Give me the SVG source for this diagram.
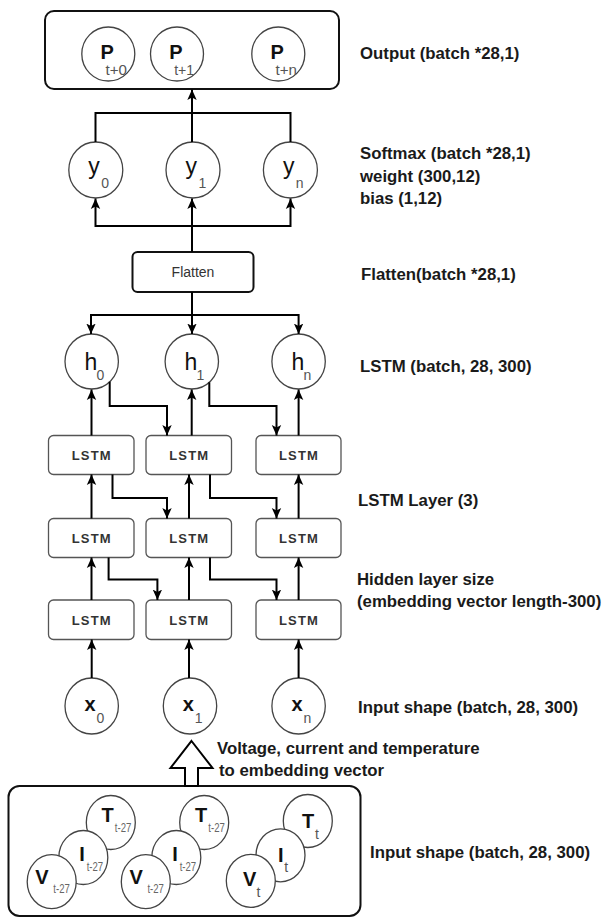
<svg xmlns="http://www.w3.org/2000/svg" width="602" height="918" viewBox="0 0 602 918">
<defs>
<style>
.lbl{font-family:"Liberation Sans",Arial,sans-serif;font-weight:bold;font-size:16.8px;fill:#1a1a1a}
.circ{fill:#fff;stroke:#444;stroke-width:1.3}
.box{fill:#fff;stroke:#555;stroke-width:1.3}
.obox{fill:#fff;stroke:#111;stroke-width:2}
.con{fill:none;stroke:#000;stroke-width:2}
.big{font-family:"Liberation Sans",Arial,sans-serif;font-weight:bold;font-size:20px;fill:#111}
.bigr{font-family:"Liberation Sans",Arial,sans-serif;font-size:23px;fill:#111}
.sub{font-family:"Liberation Sans",Arial,sans-serif;font-size:14px;fill:#555}
.subs{font-family:"Liberation Sans",Arial,sans-serif;font-size:12px;fill:#666}
.lstm{font-family:"Liberation Sans",Arial,sans-serif;font-weight:bold;font-size:13px;letter-spacing:1.2px;fill:#333;text-anchor:middle}
</style>
<marker id="ah" markerUnits="userSpaceOnUse" markerWidth="11" markerHeight="11" refX="10.5" refY="5.5" orient="auto">
<path d="M0,0.8 L10.5,5.5 L0,10.2 L2.6,5.5 z" fill="#000"/>
</marker>
</defs>

<!-- Output -->
<g id="output">
<rect class="obox" x="45" y="11" width="294" height="78" rx="9"/>
<ellipse class="circ" cx="108.3" cy="54" rx="26.5" ry="27"/>
<text class="big" x="100.5" y="58.5" font-size="22">P</text><text class="sub" x="105.5" y="74.5" font-size="15" textLength="21.5" lengthAdjust="spacingAndGlyphs">t+0</text>
<ellipse class="circ" cx="177" cy="54" rx="26.5" ry="27"/>
<text class="big" x="169.2" y="58.5" font-size="22">P</text><text class="sub" x="174.2" y="74.5" font-size="15" textLength="20" lengthAdjust="spacingAndGlyphs">t+1</text>
<ellipse class="circ" cx="278.3" cy="54" rx="26.5" ry="27"/>
<text class="big" x="270.5" y="58.5" font-size="22">P</text><text class="sub" x="275.5" y="74.5" font-size="15" textLength="21.5" lengthAdjust="spacingAndGlyphs">t+n</text>
</g>

<!-- Softmax nodes -->
<g id="y0"><ellipse class="circ" cx="95.8" cy="170" rx="27" ry="28"/><text class="bigr" x="88.3" y="174">y</text><text class="sub" x="101.2" y="188">0</text></g>
<g id="y1"><ellipse class="circ" cx="193" cy="170" rx="27" ry="28"/><text class="bigr" x="185.5" y="174">y</text><text class="sub" x="198.4" y="188">1</text></g>
<g id="yn"><ellipse class="circ" cx="290.4" cy="170" rx="27" ry="28"/><text class="bigr" x="282.9" y="174">y</text><text class="sub" x="295.8" y="188">n</text></g>

<g id="flatten">
<rect class="obox" x="132.5" y="252" width="121" height="40" rx="5"/>
<text x="193" y="277" text-anchor="middle" font-family="Liberation Sans, Arial, sans-serif" font-size="14" fill="#333">Flatten</text>
</g>

<!-- h nodes -->
<g id="h0"><ellipse class="circ" cx="91.7" cy="361.5" rx="26.7" ry="27.5"/><text class="bigr" x="84.5" y="370">h</text><text class="sub" x="96.5" y="380">0</text></g>
<g id="h1"><ellipse class="circ" cx="191.8" cy="361.5" rx="26.7" ry="27.5"/><text class="bigr" x="184.6" y="370">h</text><text class="sub" x="196.6" y="380">1</text></g>
<g id="hn"><ellipse class="circ" cx="298.6" cy="361.5" rx="26.7" ry="27.5"/><text class="bigr" x="291.4" y="370">h</text><text class="sub" x="303.4" y="380">n</text></g>

<!-- LSTM layers -->
<g id="lstm-1-0"><rect class="box" x="48.5" y="435.5" width="85.5" height="39" rx="5"/><text class="lstm" x="91.8" y="460">LSTM</text></g>
<g id="lstm-1-1"><rect class="box" x="146" y="435.5" width="85.5" height="39" rx="5"/><text class="lstm" x="189.3" y="460">LSTM</text></g>
<g id="lstm-1-n"><rect class="box" x="256" y="435.5" width="85" height="39" rx="5"/><text class="lstm" x="299" y="460">LSTM</text></g>
<g id="lstm-2-0"><rect class="box" x="48.5" y="518.5" width="85.5" height="39" rx="5"/><text class="lstm" x="91.8" y="543">LSTM</text></g>
<g id="lstm-2-1"><rect class="box" x="146" y="518.5" width="85.5" height="39" rx="5"/><text class="lstm" x="189.3" y="543">LSTM</text></g>
<g id="lstm-2-n"><rect class="box" x="256" y="518.5" width="85" height="39" rx="5"/><text class="lstm" x="299" y="543">LSTM</text></g>
<g id="lstm-3-0"><rect class="box" x="48.5" y="600" width="85.5" height="39.5" rx="5"/><text class="lstm" x="91.8" y="624.5">LSTM</text></g>
<g id="lstm-3-1"><rect class="box" x="146" y="600" width="85.5" height="39.5" rx="5"/><text class="lstm" x="189.3" y="624.5">LSTM</text></g>
<g id="lstm-3-n"><rect class="box" x="256" y="600" width="85" height="39.5" rx="5"/><text class="lstm" x="299" y="624.5">LSTM</text></g>

<!-- x nodes -->
<g id="x0"><ellipse class="circ" cx="91.7" cy="706" rx="26.7" ry="28"/><text class="big" x="84.5" y="710.5">x</text><text class="sub" x="96.5" y="723">0</text></g>
<g id="x1"><ellipse class="circ" cx="190" cy="706" rx="26.7" ry="28"/><text class="big" x="182.8" y="710.5">x</text><text class="sub" x="194.8" y="723">1</text></g>
<g id="xn"><ellipse class="circ" cx="298.6" cy="706" rx="26.7" ry="28"/><text class="big" x="291.4" y="710.5">x</text><text class="sub" x="303.4" y="723">n</text></g>

<!-- Input box -->
<g id="input">
<rect class="obox" x="8.5" y="786" width="352" height="130" rx="11"/>
<g id="g1">
<ellipse class="circ" cx="110.8" cy="822.5" rx="24.5" ry="27"/>
<text class="big" x="101.5" y="822">T</text><text class="subs" x="114.8" y="832" textLength="16.5" lengthAdjust="spacingAndGlyphs">t-27</text>
<ellipse class="circ" cx="83.3" cy="857.5" rx="24.5" ry="27"/>
<text class="big" x="79.3" y="860.5" font-size="22">I</text><text class="subs" x="86.7" y="870.5" textLength="16.5" lengthAdjust="spacingAndGlyphs">t-27</text>
<ellipse class="circ" cx="51.7" cy="881.7" rx="24.5" ry="27"/>
<text class="big" x="35.3" y="883.5" font-size="21">V</text><text class="subs" x="53.3" y="892.5" textLength="16.5" lengthAdjust="spacingAndGlyphs">t-27</text>
</g>
<g id="g2">
<ellipse class="circ" cx="204.2" cy="822.5" rx="24.5" ry="27"/>
<text class="big" x="195" y="822">T</text><text class="subs" x="208.3" y="832" textLength="16.5" lengthAdjust="spacingAndGlyphs">t-27</text>
<ellipse class="circ" cx="176.3" cy="857.5" rx="24.5" ry="27"/>
<text class="big" x="172.3" y="860.5" font-size="22">I</text><text class="subs" x="179.7" y="870.5" textLength="16.5" lengthAdjust="spacingAndGlyphs">t-27</text>
<ellipse class="circ" cx="145.8" cy="881.7" rx="24.5" ry="27"/>
<text class="big" x="129.4" y="883.5" font-size="21">V</text><text class="subs" x="147.4" y="892.5" textLength="16.5" lengthAdjust="spacingAndGlyphs">t-27</text>
</g>
<g id="g3">
<ellipse class="circ" cx="307.8" cy="821" rx="24.5" ry="26.5"/>
<text class="big" x="302" y="828">T</text><text class="sub" x="315" y="838.5" fill="#666">t</text>
<ellipse class="circ" cx="280.5" cy="855.3" rx="24.5" ry="26.5"/>
<text class="big" x="278" y="862" font-size="22">I</text><text class="sub" x="284.3" y="872" fill="#666">t</text>
<ellipse class="circ" cx="250.8" cy="880.8" rx="24.5" ry="26.5"/>
<text class="big" x="243" y="886.3">V</text><text class="sub" x="256.5" y="897" fill="#666">t</text>
</g>
</g>

<!-- Connectors -->
<g id="connectors">
<path class="con" d="M192,142 V89.5" marker-end="url(#ah)"/>
<path class="con" d="M95.5,142 V113 H290.5 V142"/>
<path class="con" d="M192,252 V198.5" marker-end="url(#ah)"/>
<path class="con" d="M192,226 H95.5 V198.5" marker-end="url(#ah)"/>
<path class="con" d="M192,226 H290.5 V198.5" marker-end="url(#ah)"/>
<path class="con" d="M192,292 V334" marker-end="url(#ah)"/>
<path class="con" d="M192,315 H91 V334" marker-end="url(#ah)"/>
<path class="con" d="M192,315 H298.6 V334" marker-end="url(#ah)"/>

<path class="con" d="M91.5,435.5 V389.5" marker-end="url(#ah)"/>
<path class="con" d="M191.7,435.5 V389.5" marker-end="url(#ah)"/>
<path class="con" d="M298.6,435.5 V389.5" marker-end="url(#ah)"/>
<path class="con" d="M109.7,381.8 V406 H167 V435.5" marker-end="url(#ah)"/>
<path class="con" d="M209.3,382.3 V406 H276.5 V435.5" marker-end="url(#ah)"/>

<path class="con" d="M91.5,518.5 V474.5" marker-end="url(#ah)"/>
<path class="con" d="M189,518.5 V474.5" marker-end="url(#ah)"/>
<path class="con" d="M298.6,518.5 V474.5" marker-end="url(#ah)"/>
<path class="con" d="M112.5,474.5 V498 H167 V518.5" marker-end="url(#ah)"/>
<path class="con" d="M210,474.5 V498 H276.5 V518.5" marker-end="url(#ah)"/>

<path class="con" d="M91.5,600 V557.5" marker-end="url(#ah)"/>
<path class="con" d="M189,600 V557.5" marker-end="url(#ah)"/>
<path class="con" d="M298.6,600 V557.5" marker-end="url(#ah)"/>
<path class="con" d="M108.6,557.5 V579.5 H157.4 V600" marker-end="url(#ah)"/>
<path class="con" d="M210,557.5 V579.5 H276.5 V600" marker-end="url(#ah)"/>

<path class="con" d="M91.7,678 V639.5" marker-end="url(#ah)"/>
<path class="con" d="M189,678 V639.5" marker-end="url(#ah)"/>
<path class="con" d="M298.6,678 V639.5" marker-end="url(#ah)"/>

<polygon points="191.5,741 212.5,768 198,768 198,786 185,786 185,768 170.5,768" fill="#fff" stroke="#000" stroke-width="2" stroke-linejoin="miter"/>
</g>

<!-- Labels -->
<g id="labels">
<text class="lbl" x="360" y="59">Output (batch *28,1)</text>
<text class="lbl" x="360" y="159">Softmax (batch *28,1)</text>
<text class="lbl" x="360" y="182">weight (300,12)</text>
<text class="lbl" x="360" y="204">bias (1,12)</text>
<text class="lbl" x="361" y="280">Flatten(batch *28,1)</text>
<text class="lbl" x="360" y="372">LSTM (batch, 28, 300)</text>
<text class="lbl" x="358" y="506">LSTM Layer (3)</text>
<text class="lbl" x="357" y="585">Hidden layer size</text>
<text class="lbl" x="357" y="607">(embedding vector length-300)</text>
<text class="lbl" x="358" y="713">Input shape (batch, 28, 300)</text>
<text class="lbl" x="217" y="754">Voltage, current and temperature</text>
<text class="lbl" x="219" y="776">to embedding vector</text>
<text class="lbl" x="370" y="858">Input shape (batch, 28, 300)</text>
</g>
</svg>
